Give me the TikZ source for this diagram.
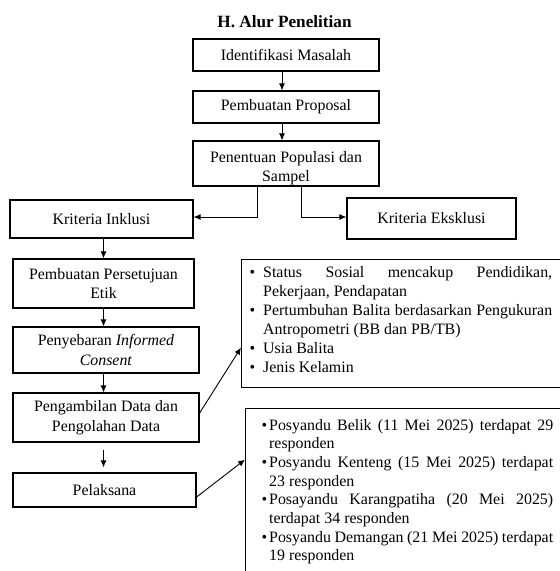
\documentclass[tikz,border=0pt]{standalone}
\usepackage{fontspec}
\setmainfont{Liberation Serif}
\usetikzlibrary{arrows.meta}
\newcommand{\bodyfont}{\fontsize{15.9}{19.5}\selectfont}
\newcommand{\bul}[1]{\leavevmode\llap{\textbullet\hspace{#1}}}
\begin{document}
\begin{tikzpicture}[x=1pt,y=-1pt,
  box/.style={draw, line width=1.2pt, inner sep=0pt, align=center, font=\bodyfont},
  txt/.style={inner sep=0pt, align=center, font=\bodyfont},
  arr/.style={line width=0.9pt, -{Latex[length=7pt,width=6pt]}}]
\useasboundingbox (0,0) rectangle (560,571);
\clip (0,0) rectangle (560,571);

\node[anchor=base, font=\bfseries\fontsize{17.2}{20}\selectfont] (title) at (284.5,27) {H. Alur Penelitian};

\node[box, minimum width=186pt, minimum height=32pt] (id) at (286,55) {Identifikasi Masalah};
\node[box, minimum width=186pt, minimum height=32pt] (prop) at (286,107) {Pembuatan Proposal};
\node[box, minimum width=186pt, minimum height=45pt] (pop) at (286,163.5) {};
\node[txt] (poptxt) at (286,168) {Penentuan Populasi dan\\Sampel};

\node[box, minimum width=183pt, minimum height=38pt] (inkl) at (101.5,219) {Kriteria Inklusi};
\node[box, minimum width=169pt, minimum height=41pt] (eks) at (431.5,218.5) {Kriteria Eksklusi};

\node[box, minimum width=181pt, minimum height=49pt] (etik) at (103.5,283.5) {Pembuatan Persetujuan\\Etik};
\node[box, minimum width=186pt, minimum height=46pt] (sebar) at (106,350) {Penyebaran \textit{Informed}\\\textit{Consent}};
\node[box, minimum width=186pt, minimum height=49pt] (ambil) at (106,417.5) {Pengambilan Data dan\\Pengolahan Data};
\node[box, minimum width=183pt, minimum height=34pt] (laks) at (104.5,490) {Pelaksana};

\node[box, anchor=north west, minimum width=359pt, minimum height=128pt] (status) at (241,259) {};
\node[inner sep=0pt, anchor=base west, font=\bodyfont] (statustxt) at (263,277) {\parbox[t]{289pt}{\setlength{\baselineskip}{19pt}%
\bul{8pt}\makebox[289pt][s]{Status Sosial mencakup Pendidikan,}\\
Pekerjaan, Pendapatan\\
\bul{8pt}\makebox[289pt][s]{Pertumbuhan Balita berdasarkan Pengukuran}\\
Antropometri (BB dan PB/TB)\\
\bul{8pt}Usia Balita\\
\bul{8pt}Jenis Kelamin}};

\node[box, anchor=north west, minimum width=355pt, minimum height=192pt] (posy) at (245,408) {};
\node[inner sep=0pt, anchor=base west, font=\bodyfont] (posytxt) at (269,430) {\parbox[t]{284pt}{\setlength{\baselineskip}{18.7pt}%
\bul{2pt}\makebox[284pt][s]{Posyandu Belik (11 Mei 2025) terdapat 29}\\
responden\\
\bul{2pt}\makebox[284pt][s]{Posyandu Kenteng (15 Mei 2025) terdapat}\\
23 responden\\
\bul{2pt}\makebox[284pt][s]{Posayandu Karangpatiha (20 Mei 2025)}\\
terdapat 34 responden\\
\bul{2pt}\makebox[284pt][s]{Posyandu Demangan (21 Mei 2025) terdapat}\\
19 responden}};

\draw[arr] ([xshift=-4pt]id.south) -- ([xshift=-4pt]prop.north);
\draw[arr] ([xshift=-4pt]prop.south) -- ([xshift=-4pt]pop.north);
\draw[arr] ([xshift=-29pt]pop.south) |- ([yshift=2pt]inkl.east);
\draw[arr] ([xshift=15pt]pop.south) |- ([yshift=1.5pt]eks.west);

\draw[arr] (inkl.south -| etik.north) -- (etik.north);
\draw[arr] (etik.south) -- (sebar.north -| etik.south);
\draw[arr] (sebar.south -| etik.south) -- (ambil.north -| etik.south);
\draw[arr, shorten <=7pt, shorten >=5pt] (ambil.south -| etik.south) -- (laks.north -| etik.south);

\draw[arr] ([yshift=4.5pt]ambil.east) -- ([yshift=-24pt]status.west);
\draw[arr] ([yshift=-7pt]laks.east) -- ([yshift=45pt]posy.west);
\end{tikzpicture}
\end{document}
